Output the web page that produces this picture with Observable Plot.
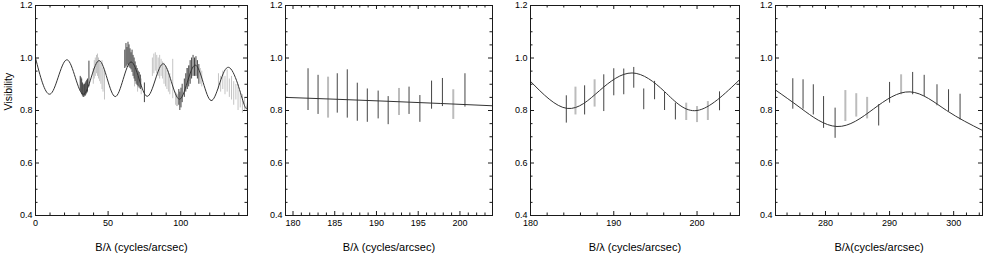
<!DOCTYPE html>
<html><head><meta charset="utf-8">
<script src="https://cdn.jsdelivr.net/npm/d3@7"></script>
<script src="https://cdn.jsdelivr.net/npm/@observablehq/plot@0.6"></script>
<style>
body{margin:0;background:#fff;}
#wrap{position:relative;width:985px;height:253px;overflow:hidden;background:#fff;}
#wrap svg{position:absolute;top:0;}
</style></head><body><div id="wrap"></div>
<script>
// ---------- Panel 1 ----------
const p1DarkX  = [30.8,31.3,31.8,32.3,32.8,33.3,33.8,34.3,34.8,35.3,35.8,36.8, 61.5,62.3,63.0,63.7,64.4,65.1,65.8,66.5,67.2,67.9,68.6,69.3,70.0,70.7,71.4,72.2,75.0, 98.7,99.4,100.2,101.0, 102.5,103.5,104.5,105.5,106.5,107.5,108.5,109.5,110.5,111.5,112.5];
const p1DarkLo = [.875,.870,.860,.855,.850,.850,.855,.855,.860,.865,.870,.890, .960,.965,.970,.975,.965,.960,.955,.945,.930,.920,.910,.900,.895,.890,.885,.880,.830, .820,.800,.810,.830, .850,.870,.880,.890,.900,.920,.930,.930,.930,.920,.900];
const p1DarkHi = [.930,.925,.920,.905,.900,.895,.900,.905,.910,.915,.920,.988, 1.030,1.055,1.040,1.060,1.050,1.035,1.020,1.030,1.010,1.000,.985,.970,.960,.950,.945,.935,.905, .880,.870,.885,.900, .920,.940,.960,.970,.990,1.000,1.010,1.000,1.005,.990,.975];
const p1LightX  = [39.8,40.5,41.2,42.0,42.7,43.4,44.2,45.0,45.8,46.5,47.5, 68.2,70.3,72.8, 80.5,81.5,82.5,83.5,84.5,85.5,86.5,87.5,88.5,89.5,90.5,91.5,92.5,94.5, 96.5,97.2,97.9, 104.0,106.0,113.5,114.5, 126,127.5,129,130.5,132,133.5,135,136.5,138,139.5,141,142.5,144];
const p1LightLo = [.900,.920,.930,.940,.930,.920,.910,.900,.880,.870,.840, .890,.870,.860, .930,.940,.950,.940,.930,.920,.930,.920,.900,.890,.880,.870,.860,.845, .820,.815,.815, .900,.910,.900,.890, .880,.870,.880,.860,.870,.850,.840,.820,.840,.800,.810,.790,.800];
const p1LightHi = [.960,.990,1.000,1.010,1.015,1.000,.990,.980,.990,.960,.950, .960,.930,.920, 1.000,1.015,1.020,1.010,1.000,1.010,.995,.985,.980,.970,.960,.950,.940,.995, .870,.865,.860, .960,.970,.960,.950, .940,.930,.950,.930,.955,.920,.930,.910,.900,.900,.870,.860,.850];
const p1CurveX = [0, 10.8, 21.9, 33.0, 43.9, 54.9, 65.8, 76.9, 88.0, 99.1, 110.0, 120.9, 132.2, 143.3, 146];
const p1CurveY = [1.0, .865, .993, .862, .990, .853, .985, .854, .978, .843, .973, .838, .964, .829, .833];
const p1XMajor = [0, 50, 100];
const p1XMinor = [10,20,30,40,60,70,80,90,110,120,130,140];

// ---------- Panel 2 ----------
const p2DarkX  = [181.8,183.0,185.3,186.5,187.7,188.9,190.2,191.4,193.9,195.2,196.6,197.9,200.6];
const p2DarkLo = [.800,.785,.790,.771,.759,.755,.768,.746,.785,.755,.805,.815,.813];
const p2DarkHi = [.959,.934,.940,.955,.904,.882,.874,.853,.889,.857,.912,.922,.940];
const p2LightX  = [184.2,192.7,199.2];
const p2LightLo = [.771,.781,.766];
const p2LightHi = [.927,.884,.879];
const p2CurveX = [179.1, 191.5, 203.9];
const p2CurveY = [.850, .835, .818];
const p2XMajor = [180,185,190,195,200];
const p2XMinor = [181,182,183,184,186,187,188,189,191,192,193,194,196,197,198,199,201,202,203];

// ---------- Panel 3 ----------
const p3DarkX  = [184.3,186.5,188.8,190.0,191.2,192.4,193.6,194.9,196.1,197.4,202.7];
const p3DarkLo = [.752,.783,.796,.856,.860,.885,.803,.841,.800,.764,.799];
const p3DarkHi = [.856,.894,.936,.959,.958,.964,.882,.911,.869,.828,.871];
const p3LightX  = [185.4,187.7,198.7,200.0,201.3];
const p3LightLo = [.783,.813,.762,.754,.762];
const p3LightHi = [.889,.917,.828,.815,.834];
const p3CurveX = [180, 184.4, 188.3, 192.2, 196.1, 200.0, 205.1];
const p3CurveY = [.911, .808, .876, .943, .872, .800, .917];
const p3XMajor = [180,190,200];
const p3XMinor = [182,184,186,188,192,194,196,198,202,204];

// ---------- Panel 4 ----------
const p4DarkX  = [274.9,276.5,278.1,279.7,281.5,288.3,290.0,293.6,295.4,297.4,299.2,301.0];
const p4DarkLo = [.805,.805,.783,.732,.694,.741,.828,.860,.853,.818,.796,.764];
const p4DarkHi = [.921,.917,.898,.853,.809,.822,.907,.945,.934,.898,.879,.862];
const p4LightX  = [283.1,284.8,286.5,291.8];
const p4LightLo = [.758,.775,.768,.860];
const p4LightHi = [.876,.864,.850,.936];
const p4CurveX = [272.2, 276.2, 281.8, 287.5, 293.2, 298.9, 304.5];
const p4CurveY = [.878, .808, .739, .806, .871, .800, .724];
const p4XMajor = [280,290,300];
const p4XMinor = [274,276,278,282,284,286,288,292,294,296,298,302,304];

// ---------- shared ----------
const yMajor = [0.4,0.6,0.8,1.0,1.2];
const yMinor = [0.45,0.5,0.55,0.65,0.7,0.75,0.85,0.9,0.95,1.05,1.1,1.15];
const xTitle = "B/λ (cycles/arcsec)";
const xTitle4 = "B/λ(cycles/arcsec)";
const yTitle = "Visibility";

const H = 253, MT = 5, MB = 38, PH = H - MT - MB;
const INK = "#1a1a1a", DARK = "#444", LIGHT = "#bcbcbc";
const zip = (xs, a, b) => xs.map((x, i) => ({x, lo: a[i], hi: b[i]}));
const pts = (xs, ys) => xs.map((x, i) => ({x, y: ys[i]}));

function panel(c) {
  const PW = c.width - c.mL - c.mR;
  const marks = [
    Plot.ruleX(zip(c.lx, c.llo, c.lhi), {x: "x", y1: "lo", y2: "hi", stroke: c.lightColor || LIGHT, strokeWidth: c.lightWidth || 2}),
    Plot.ruleX(zip(c.dx, c.dlo, c.dhi), {x: "x", y1: "lo", y2: "hi", stroke: DARK, strokeWidth: 1}),
    Plot.line(pts(c.cx, c.cy), {x: "x", y: "y", curve: "natural", stroke: "#333", strokeWidth: 1, clip: true}),
    Plot.frame({stroke: INK}),
    Plot.tickX(c.xMajor, {x: d => d, insetTop: PH - 4, stroke: INK}),
    Plot.tickX(c.xMajor, {x: d => d, insetBottom: PH - 4, stroke: INK}),
    Plot.tickX(c.xMinor, {x: d => d, insetTop: PH - 2.5, stroke: INK}),
    Plot.tickX(c.xMinor, {x: d => d, insetBottom: PH - 2.5, stroke: INK}),
    Plot.tickY(yMajor, {y: d => d, insetRight: PW - 4, stroke: INK}),
    Plot.tickY(yMajor, {y: d => d, insetLeft: PW - 4, stroke: INK}),
    Plot.tickY(yMinor, {y: d => d, insetRight: PW - 2.5, stroke: INK}),
    Plot.tickY(yMinor, {y: d => d, insetLeft: PW - 2.5, stroke: INK}),
    Plot.axisX({ticks: c.xMajor, tickSize: 0, tickPadding: 4, tickFormat: d3.format("d"), label: null, fontSize: 9, fill: "#000"}),
    Plot.axisY({ticks: yMajor, tickSize: 0, tickPadding: 3, tickFormat: d3.format(".1f"), label: null, fontSize: 9, fill: "#000"}),
    Plot.text([c.xTitle], {text: d => d, frameAnchor: "bottom", dy: 32, lineAnchor: "middle", fontSize: 11, fill: "#000"})
  ];
  if (c.yTitle) marks.push(Plot.text([c.yTitle], {text: d => d, frameAnchor: "left", rotate: -90, dx: -27, lineAnchor: "middle", fontSize: 10.5, fill: "#000"}));
  const svg = Plot.plot({
    width: c.width, height: H,
    marginLeft: c.mL, marginRight: c.mR, marginTop: MT, marginBottom: MB,
    style: {fontFamily: "'Liberation Sans', Arial, sans-serif", fontSize: "9px", background: "transparent", color: "#000"},
    x: {domain: c.xDomain, axis: null},
    y: {domain: [0.4, 1.2], axis: null},
    marks
  });
  svg.style.left = c.left + "px";
  document.getElementById("wrap").appendChild(svg);
}

panel({left: 0, width: 250, mL: 35, mR: 3, xDomain: [0, 146], xMajor: p1XMajor, xMinor: p1XMinor,
  dx: p1DarkX, dlo: p1DarkLo, dhi: p1DarkHi, lx: p1LightX, llo: p1LightLo, lhi: p1LightHi,
  cx: p1CurveX, cy: p1CurveY, xTitle: xTitle, yTitle: yTitle, lightWidth: 1, lightColor: "#c4c4c4"});
panel({left: 247, width: 250, mL: 38, mR: 5, xDomain: [179.1, 203.9], xMajor: p2XMajor, xMinor: p2XMinor,
  dx: p2DarkX, dlo: p2DarkLo, dhi: p2DarkHi, lx: p2LightX, llo: p2LightLo, lhi: p2LightHi,
  cx: p2CurveX, cy: p2CurveY, xTitle: xTitle});
panel({left: 492, width: 250, mL: 38, mR: 3, xDomain: [180, 205.1], xMajor: p3XMajor, xMinor: p3XMinor,
  dx: p3DarkX, dlo: p3DarkLo, dhi: p3DarkHi, lx: p3LightX, llo: p3LightLo, lhi: p3LightHi,
  cx: p3CurveX, cy: p3CurveY, xTitle: xTitle});
panel({left: 739, width: 246, mL: 36, mR: 3, xDomain: [272.2, 304.5], xMajor: p4XMajor, xMinor: p4XMinor,
  dx: p4DarkX, dlo: p4DarkLo, dhi: p4DarkHi, lx: p4LightX, llo: p4LightLo, lhi: p4LightHi,
  cx: p4CurveX, cy: p4CurveY, xTitle: xTitle4});
</script></body></html>
